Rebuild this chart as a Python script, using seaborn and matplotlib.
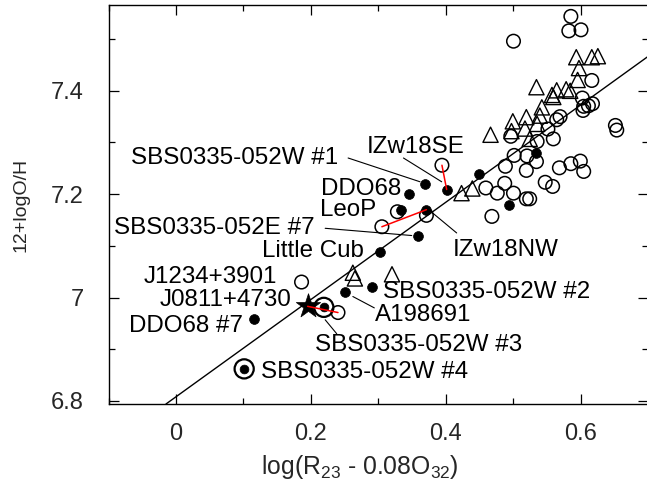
import matplotlib
matplotlib.use("Agg")
import matplotlib.pyplot as plt
from matplotlib.ticker import FixedLocator, FixedFormatter
import seaborn as sns

sns.set_theme(style="ticks")
plt.rcParams["font.family"] = ["Liberation Sans", "DejaVu Sans"]
plt.rcParams["mathtext.fontset"] = "custom"
plt.rcParams["mathtext.rm"] = "Liberation Sans"
plt.rcParams["mathtext.it"] = "Liberation Sans"

# ── data ─────────────────────────────────────────────────────────────────────
OPEN_X = [0.585, 0.582, 0.600, 0.500, 0.616, 0.602, 0.604, 0.611, 0.617, 0.603,
          0.651, 0.653, 0.569, 0.564, 0.551, 0.559, 0.535, 0.496, 0.534, 0.520,
          0.501, 0.488, 0.519, 0.568, 0.585, 0.599, 0.604, 0.547, 0.558, 0.487,
          0.476, 0.500, 0.459, 0.519, 0.524, 0.468, 0.394, 0.371, 0.328, 0.305,
          0.186, 0.240]
OPEN_Y = [7.544, 7.516, 7.518, 7.496, 7.420, 7.386, 7.370, 7.371, 7.375, 7.362,
          7.333, 7.324, 7.350, 7.344, 7.326, 7.307, 7.302, 7.312, 7.263, 7.274,
          7.275, 7.254, 7.246, 7.251, 7.259, 7.264, 7.244, 7.223, 7.215, 7.221,
          7.202, 7.202, 7.212, 7.191, 7.191, 7.157, 7.256, 7.159, 7.166, 7.137,
          7.030, 6.971]

DOT_X = [0.534, 0.449, 0.401, 0.369, 0.345, 0.333, 0.371, 0.359, 0.302, 0.291,
         0.250, 0.116, 0.494]
DOT_Y = [7.279, 7.239, 7.209, 7.220, 7.200, 7.170, 7.170, 7.119, 7.089, 7.020,
         7.010, 6.959, 7.179]

TRI_X = [0.593, 0.616, 0.625, 0.597, 0.595, 0.534, 0.564, 0.578, 0.584, 0.557,
         0.559, 0.542, 0.539, 0.519, 0.499, 0.517, 0.535, 0.497, 0.466, 0.524,
         0.423, 0.439, 0.262, 0.265, 0.320]
TRI_Y = [7.465, 7.465, 7.467, 7.444, 7.421, 7.407, 7.401, 7.403, 7.400, 7.392,
         7.388, 7.368, 7.352, 7.349, 7.341, 7.327, 7.336, 7.322, 7.315, 7.307,
         7.202, 7.211, 7.048, 7.037, 7.045]

RING_X = [0.219, 0.101]
RING_Y = [6.981, 6.862]

STAR_X = [0.195]
STAR_Y = [6.983]

FIT_INTERCEPT = 6.808
FIT_SLOPE = 0.9416

# red links between paired measurements: (kind, index) -> (kind, index)
RED_LINKS = [(("open", 36), ("dot", 2)),
             (("open", 39), ("dot", 6)),
             (("star", 0), ("open", 41))]

X_TICKS = [0, 0.2, 0.4, 0.6]
X_TICKLABELS = ["0", "0.2", "0.4", "0.6"]
X_MINOR = [-0.1, 0.1, 0.3, 0.5]
Y_TICKS = [6.8, 7.0, 7.2, 7.4]
Y_TICKLABELS = ["6.8", "7", "7.2", "7.4"]
Y_MINOR = [6.9, 7.1, 7.3, 7.5]

# label text, anchor x, anchor y (baseline), horizontal alignment
LABELS = [
    ("SBS0335-052W #1", 0.240, 7.258, "right"),
    ("IZw18SE", 0.428, 7.279, "right"),
    ("DDO68", 0.334, 7.199, "right"),
    ("LeoP", 0.296, 7.158, "right"),
    ("SBS0335-052E #7", 0.206, 7.123, "right"),
    ("Little Cub", 0.2785, 7.079, "right"),
    ("IZw18NW", 0.410, 7.081, "left"),
    ("J1234+3901", 0.149, 7.028, "right"),
    ("J0811+4730", 0.171, 6.983, "right"),
    ("DDO68 #7", 0.0997, 6.934, "right"),
    ("SBS0335-052W #2", 0.306, 6.999, "left"),
    ("A198691", 0.295, 6.954, "left"),
    ("SBS0335-052W #3", 0.206, 6.896, "left"),
    ("SBS0335-052W #4", 0.1255, 6.844, "left"),
]
LEADERS = [
    (0.255, 7.270, 0.3615, 7.224),
    (0.337, 7.270, 0.3936, 7.224),
    (0.378, 7.166, 0.4158, 7.125),
    (0.221, 7.134, 0.3492, 7.120),
    (0.262, 7.002, 0.2938, 6.980),
    (0.221, 6.957, 0.2381, 6.930),
]

POINTS = {"open": (OPEN_X, OPEN_Y), "dot": (DOT_X, DOT_Y), "star": (STAR_X, STAR_Y)}

fig = plt.figure(figsize=(6.47, 4.87), dpi=100)
ax = fig.add_axes([0.1677, 0.1704, 0.8346, 0.8193])

ax.axline((0, FIT_INTERCEPT), slope=FIT_SLOPE, color="black", linewidth=1.0, zorder=1)

sns.scatterplot(x=OPEN_X, y=OPEN_Y, marker="o", s=95, facecolors="none",
                edgecolor="black", linewidth=1.1, ax=ax, zorder=3)
sns.scatterplot(x=TRI_X, y=TRI_Y, marker="^", s=120, facecolors="none",
                edgecolor="black", linewidth=1.0, ax=ax, zorder=3)
sns.scatterplot(x=DOT_X, y=DOT_Y, marker="o", s=50, color="black",
                edgecolor="black", linewidth=0.5, ax=ax, zorder=4)
sns.scatterplot(x=RING_X, y=RING_Y, marker="o", s=190, facecolors="none",
                edgecolor="black", linewidth=1.6, ax=ax, zorder=4)
sns.scatterplot(x=RING_X, y=RING_Y, marker="o", s=40, color="black",
                edgecolor="black", linewidth=0.5, ax=ax, zorder=4)
sns.scatterplot(x=STAR_X, y=STAR_Y, marker="*", s=340, color="black",
                edgecolor="black", linewidth=0.5, ax=ax, zorder=5)

for (ka, ia), (kb, ib) in RED_LINKS:
    xa, ya = POINTS[ka][0][ia], POINTS[ka][1][ia]
    xb, yb = POINTS[kb][0][ib], POINTS[kb][1][ib]
    ax.plot([xa, xb], [ya, yb], color="red", linewidth=1.1, zorder=6)

for x0, y0, x1, y1 in LEADERS:
    ax.plot([x0, x1], [y0, y1], color="black", linewidth=0.8, zorder=2)

for text, x, y, ha in LABELS:
    ax.text(x, y, text, ha=ha, va="baseline", fontsize=17.4, color="black", zorder=7)

ax.set_xlim(-0.1, 0.7)
ax.set_ylim(6.794, 7.566)
ax.xaxis.set_major_locator(FixedLocator(X_TICKS))
ax.xaxis.set_major_formatter(FixedFormatter(X_TICKLABELS))
ax.xaxis.set_minor_locator(FixedLocator(X_MINOR))
ax.yaxis.set_major_locator(FixedLocator(Y_TICKS))
ax.yaxis.set_major_formatter(FixedFormatter(Y_TICKLABELS))
ax.yaxis.set_minor_locator(FixedLocator(Y_MINOR))
ax.tick_params(which="both", direction="in", top=True, right=True,
               color="black", width=0.9)
ax.tick_params(which="major", length=7, labelsize=17, pad=14)
ax.tick_params(axis="y", which="major", pad=18)
ax.tick_params(which="minor", length=4)
for sp in ax.spines.values():
    sp.set_color("black")
    sp.set_linewidth(1.0)

ax.set_xlabel(r"log(R$_\mathrm{23}$ - 0.08O$_\mathrm{32}$)", fontsize=17.8)
ax.set_ylabel("12+logO/H", fontsize=14)
ax.xaxis.set_label_coords(0.465, -0.1228)
ax.yaxis.set_label_coords(-0.1454, 0.5)

fig.savefig("out.png", dpi=100)
